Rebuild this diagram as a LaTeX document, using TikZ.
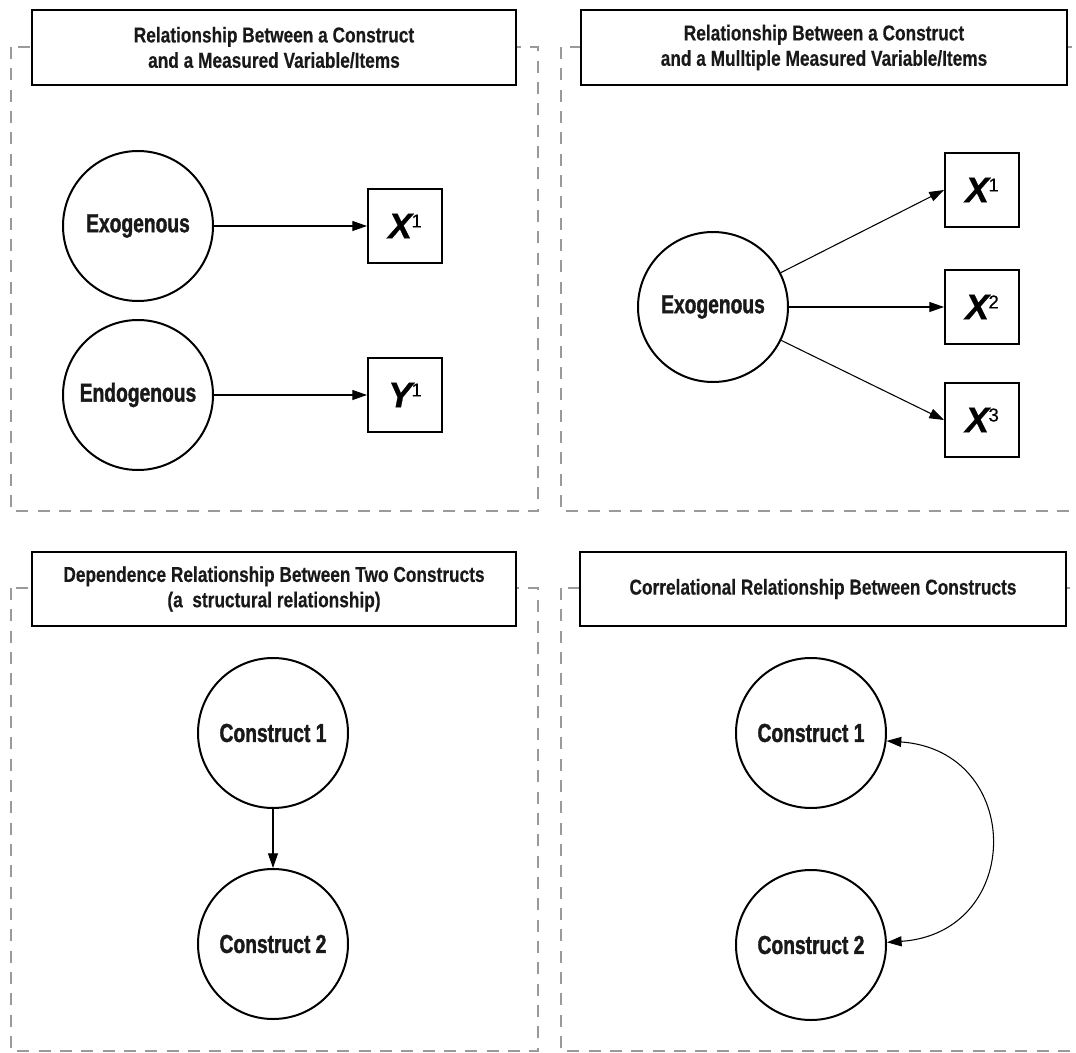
\documentclass[tikz,border=0pt]{standalone}
\usepackage{fontspec}
\usetikzlibrary{arrows.meta}
\setmainfont{Liberation Sans}
\newfontfamily\titlefont{Liberation Sans Bold}[FakeStretch=0.8,FakeBold=0.3]
\newfontfamily\labfont{Liberation Sans Bold}[FakeStretch=0.74,FakeBold=1.4]
\newfontfamily\varfont{Liberation Sans Bold Italic}[FakeBold=0.6]
\newfontfamily\supfont{Liberation Sans}[FakeBold=0.3]
\definecolor{dashgray}{HTML}{9A9A9A}
\newcommand{\vx}[2]{{\varfont\fontsize{27}{27}\selectfont #1}\kern-0.5pt\raisebox{8.2pt}{\supfont\fontsize{14}{14}\selectfont #2}}
\tikzset{
  panel/.style={draw=dashgray, line width=1.5pt, dash pattern=on 9pt off 7pt},
  titlebox/.style={draw=black, fill=white, line width=1.5pt, minimum width=363pt, minimum height=56pt,
    align=center, inner sep=0pt, font=\titlefont\fontsize{16.2}{19}\selectfont, text=black!90},
  construct/.style={circle, draw=black, line width=1.5pt, minimum size=112.5pt, inner sep=0pt,
    font=\labfont\fontsize{19.5}{20}\selectfont, text=black!90},
  item/.style={rectangle, draw=black, line width=1.5pt, minimum size=55.5pt, inner sep=0pt},
  link/.style={line width=0.8pt, -{Triangle[length=11pt,width=7.5pt]}},
}
\begin{document}
\begin{tikzpicture}[x=0.75pt,y=-0.75pt]
\clip (0,0) rectangle (1076,1053);
% panels
\draw[panel] (11,47) rectangle (538,511);
\draw[panel] (561,47) rectangle (1110,511);
\draw[panel] (11,588) rectangle (538,1051);
\draw[panel] (561,588) rectangle (1110,1051);
% titles
\node[titlebox] (t1) at (274,47.5) {Relationship Between a Construct\\and a Measured Variable/Items};
\node[titlebox, minimum width=364.5pt] (t2) at (824,47.5) {Relationship Between a Construct\\and a Mulltiple Measured Variable/Items};
\node[titlebox] (t3) at (274,589) {Dependence Relationship Between Two Constructs\\(a\ \ structural relationship)};
\node[titlebox, minimum width=364.5pt] (t4) at (823,589) {Correlational Relationship Between Constructs};
% panel 1
\node[construct] (exo) at (138,226) {Exogenous};
\node[construct] (endo) at (138,395) {Endogenous};
\node[item] (x1) at (405,226) {\vx{X}{1}};
\node[item] (y1) at (405,395) {\vx{Y}{1}};
\draw[link] (exo) -- (x1);
\draw[link] (endo) -- (y1);
% panel 2
\node[construct] (exob) at (713,307) {Exogenous};
\node[item] (xb1) at (982,190) {\vx{X}{1}};
\node[item] (xb2) at (982,307) {\vx{X}{2}};
\node[item] (xb3) at (982,420) {\vx{X}{3}};
\draw[link] (exob) -- (xb1.west);
\draw[link] (exob) -- (xb2.west);
\draw[link] (exob) -- (xb3.west);
% panel 3
\node[construct] (c1) at (273,733) {Construct 1};
\node[construct] (c2) at (273,944) {Construct 2};
\draw[link] (c1) -- (c2);
% panel 4
\node[construct] (d1) at (811,733) {Construct 1};
\node[construct] (d2) at (811,945) {Construct 2};
\draw[line width=0.8pt, {Triangle[length=11pt,width=7.5pt]}-{Triangle[length=11pt,width=7.5pt]}]
  (d1.-6) to[out=-4, in=4, looseness=1.75] (d2.2);
\end{tikzpicture}
\end{document}
